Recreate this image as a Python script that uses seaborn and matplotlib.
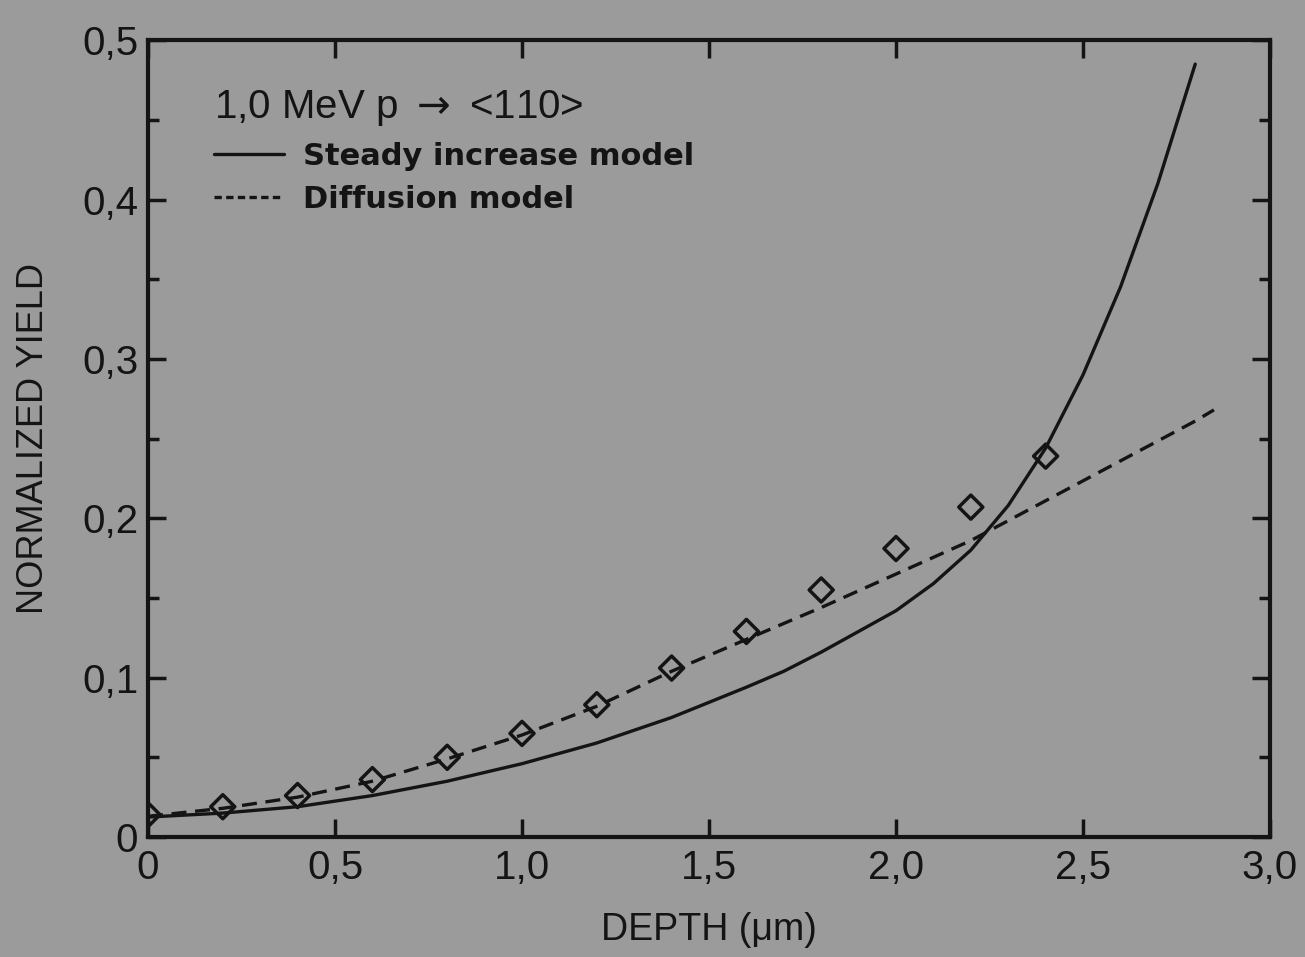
import numpy as np
import pandas as pd
import matplotlib
matplotlib.use("Agg")
import matplotlib.pyplot as plt
from matplotlib.lines import Line2D
import seaborn as sns

# medidas (diamantes)
depth_pts = [0.0, 0.2, 0.4, 0.6, 0.8, 1.0, 1.2, 1.4, 1.6, 1.8, 2.0, 2.2, 2.4]
yield_pts = [0.014, 0.019, 0.026, 0.036, 0.050, 0.065, 0.083, 0.106, 0.129,
             0.155, 0.181, 0.207, 0.239]

# modelo "steady increase" (linha cheia)
steady_x = [0.0, 0.2, 0.4, 0.6, 0.8, 1.0, 1.2, 1.4, 1.6, 1.7, 1.8, 1.9, 2.0,
            2.1, 2.2, 2.3, 2.4, 2.5, 2.6, 2.7, 2.8]
steady_y = [0.0125, 0.015, 0.019, 0.026, 0.035, 0.046, 0.059, 0.075, 0.094,
            0.104, 0.116, 0.129, 0.142, 0.159, 0.180, 0.208, 0.244, 0.290,
            0.345, 0.410, 0.485]

# modelo de difusão (tracejado)
diff_x = [0.0, 0.2, 0.4, 0.6, 0.8, 1.0, 1.2, 1.4, 1.6, 1.8, 2.0, 2.2, 2.4,
          2.6, 2.8, 2.85]
diff_y = [0.013, 0.018, 0.025, 0.035, 0.049, 0.064, 0.082, 0.104, 0.124,
          0.144, 0.165, 0.186, 0.211, 0.236, 0.261, 0.268]

x_ticks = [0, 0.5, 1.0, 1.5, 2.0, 2.5, 3.0]
x_labels = ["0", "0,5", "1,0", "1,5", "2,0", "2,5", "3,0"]
y_ticks = [0, 0.1, 0.2, 0.3, 0.4, 0.5]
y_labels = ["0", "0,1", "0,2", "0,3", "0,4", "0,5"]

bg = "#9b9b9b"
ink = "#141414"

sns.set_theme(style="ticks")
plt.rcParams["font.family"] = ["Liberation Sans", "DejaVu Sans"]
plt.rcParams["text.color"] = ink
plt.rcParams["axes.labelcolor"] = ink

fig = plt.figure(figsize=(13.05, 9.57), dpi=100, facecolor=bg)
ax = fig.add_axes([0.1134, 0.1254, 0.8598, 0.8326])
ax.set_facecolor(bg)

df_pts = pd.DataFrame({"depth": depth_pts, "yield": yield_pts})
df_steady = pd.DataFrame({"depth": steady_x, "yield": steady_y})
df_diff = pd.DataFrame({"depth": diff_x, "yield": diff_y})

sns.lineplot(data=df_steady, x="depth", y="yield", ax=ax, color=ink,
             linewidth=2.4, sort=False)
sns.lineplot(data=df_diff, x="depth", y="yield", ax=ax, color=ink,
             linewidth=2.4, linestyle=(0, (4.5, 2.6)), sort=False)
sns.scatterplot(data=df_pts, x="depth", y="yield", ax=ax, marker="D", s=150,
                facecolor="none", edgecolor=ink, linewidth=2.5, zorder=5)

ax.set_xlim(0, 3.0)
ax.set_ylim(0, 0.5)
ax.set_xticks(x_ticks)
ax.set_xticklabels(x_labels)
ax.set_yticks(y_ticks)
ax.set_yticklabels(y_labels)
ax.set_yticks(np.arange(0.05, 0.5, 0.1), minor=True)

ax.tick_params(axis="both", which="both", direction="in", color=ink,
               width=2.5, top=True, right=True, labelsize=29, labelcolor=ink)
ax.tick_params(axis="both", which="major", length=13)
ax.tick_params(axis="both", which="minor", length=8)
ax.tick_params(axis="x", which="both", top=True, pad=9)
ax.tick_params(axis="y", which="both", pad=7)
for s in ax.spines.values():
    s.set_linewidth(3)
    s.set_color(ink)
    s.set_visible(True)

ax.set_xlabel("DEPTH (μm)", fontsize=27, labelpad=18)
ax.set_ylabel("NORMALIZED YIELD", fontsize=26, labelpad=22)

handles = [
    Line2D([], [], color=ink, linewidth=2.4),
    Line2D([], [], color=ink, linewidth=2.4, linestyle=(0, (2.2, 1.3))),
]
leg = ax.legend(handles, ["Steady increase model", "Diffusion model"],
                title="1,0 MeV p $\\rightarrow$ <110>", loc="upper left",
                bbox_to_anchor=(0.048, 0.955), frameon=False,
                alignment="left", handlelength=2.3, handletextpad=0.6,
                labelspacing=0.45, borderaxespad=0,
                prop={"family": ["DejaVu Sans"], "weight": "bold", "size": 22},
                title_fontproperties={"family": ["Liberation Sans", "DejaVu Sans"],
                                      "size": 29})
for t in leg.get_texts():
    t.set_color(ink)

fig.savefig("out.png", dpi=100, facecolor=bg)
